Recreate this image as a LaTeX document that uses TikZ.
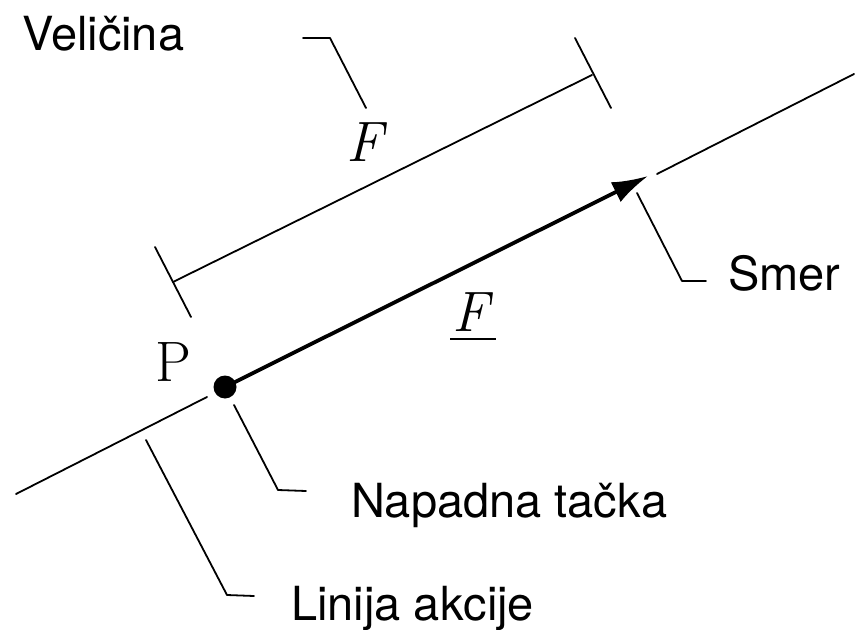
\documentclass[tikz,border=0pt]{standalone}
\usepackage{fontspec}
\newfontfamily\lblfont{TeX Gyre Heros}
\usetikzlibrary{arrows.meta}
\tikzset{
  thinline/.style={line width=1.8bp, line cap=round, line join=round},
  thickline/.style={line width=3.8bp},
  lbl/.style={anchor=base west, inner sep=0pt, font=\lblfont\fontsize{47bp}{56bp}\selectfont},
  sym/.style={inner sep=0pt, font=\fontsize{57bp}{66bp}\selectfont},
  dotpt/.style={circle, fill=black, minimum size=23bp, inner sep=0pt},
}
\begin{document}
\begin{tikzpicture}[x=1bp, y=-1bp]
\useasboundingbox (0,0) rectangle (860,630);
% line of action
\coordinate (la1) at (16,494);
\coordinate (la2) at (207,397);
\coordinate (la3) at (657,174);
\coordinate (la4) at (854,74);
\draw[thinline] (la1) -- (la2);
\draw[thinline] (la3) -- (la4);
% point of application and force vector
\node[dotpt] (pt) at (225,387) {};
\coordinate (tip) at (648,176);
\draw[thickline, -{Latex[length=36bp, width=22bp]}] (pt.center) -- (tip);
% magnitude dimension line
\coordinate (d1) at (173,282);
\coordinate (d2) at (592,75);
\coordinate (t1a) at (155,247);
\coordinate (t1b) at (191,317);
\coordinate (t2a) at (575,38);
\coordinate (t2b) at (611,108);
\draw[thinline] (d1) -- (d2);
\draw[thinline] (t1a) -- (t1b);
\draw[thinline] (t2a) -- (t2b);
% labels
\node[sym] (P) at (173,362) {P};
\node[sym] (Fmag) at (365,142) {\itshape F};
\node[sym] (Fvec) at (471,312) {\itshape F};
\coordinate (u1) at (450,339);
\coordinate (u2) at (496,339);
\draw[line width=2.4bp] (u1) -- (u2);
\node[lbl] (vel) at (22,51) {Veličina};
\node[lbl] (smer) at (728,290) {Smer};
\node[lbl] (nap) at (351,517) {Napadna tačka};
\node[lbl] (lin) at (291,620) {Linija akcije};
% leaders
\coordinate (v1) at (303,38);
\coordinate (v2) at (330,38);
\coordinate (v3) at (366,108);
\draw[thinline] (v1) -- (v2) -- (v3);
\coordinate (s1) at (637,193);
\coordinate (s2) at (682,281);
\coordinate (s3) at (706,281);
\draw[thinline] (s1) -- (s2) -- (s3);
\coordinate (n1) at (234,405);
\coordinate (n2) at (278,490);
\coordinate (n3) at (306,491);
\draw[thinline] (n1) -- (n2) -- (n3);
\coordinate (l1) at (146,440);
\coordinate (l2) at (227,595);
\coordinate (l3) at (254,596);
\draw[thinline] (l1) -- (l2) -- (l3);
\end{tikzpicture}
\end{document}
